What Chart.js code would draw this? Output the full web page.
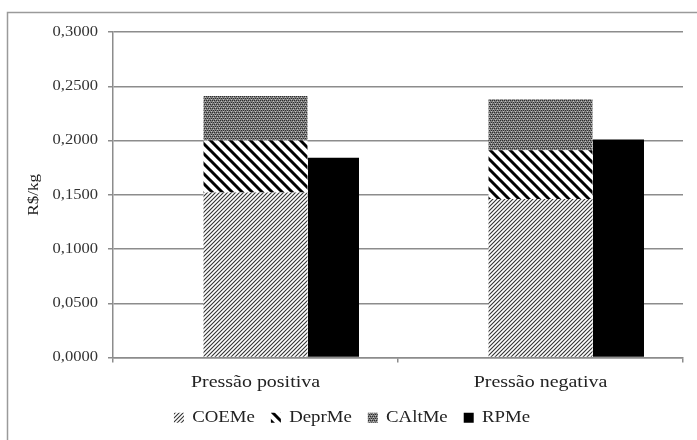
<!DOCTYPE html>
<html>
<head>
<meta charset="utf-8">
<script src="https://cdn.jsdelivr.net/npm/chart.js@4/dist/chart.umd.min.js"></script>
<style>
  html, body { margin: 0; padding: 0; background: #fff; }
  #wrap { width: 697px; height: 440px; }
</style>
</head>
<body>
<div id="wrap"><canvas id="c" width="697" height="440"></canvas></div>
<script>
// ---- data ----
const categories = ['Pressão positiva', 'Pressão negativa'];
const coeMe  = [0.152, 0.146];
const deprMe = [0.048, 0.045];
const caltMe = [0.041, 0.047];
const rpMe   = [0.184, 0.201];
const yTickLabels = ['0,0000', '0,0500', '0,1000', '0,1500', '0,2000', '0,2500', '0,3000'];
const seriesNames = ['COEMe', 'DeprMe', 'CAltMe', 'RPMe'];

const canvas = document.getElementById('c');
const ctx = canvas.getContext('2d');

// The reference's serif text is slightly wide; stretch text horizontally.
const SX = 1.14;
const origFill = ctx.fillText.bind(ctx);
const origMeasure = ctx.measureText.bind(ctx);
ctx.fillText = function (t, x, y) {
  ctx.save();
  ctx.translate(x, y);
  ctx.scale(SX, 1);
  origFill(t, 0, 0);
  ctx.restore();
};
ctx.measureText = function (t) {
  const m = origMeasure(t);
  return {
    width: m.width * SX,
    actualBoundingBoxAscent: m.actualBoundingBoxAscent,
    actualBoundingBoxDescent: m.actualBoundingBoxDescent,
    actualBoundingBoxLeft: m.actualBoundingBoxLeft * SX,
    actualBoundingBoxRight: m.actualBoundingBoxRight * SX,
    fontBoundingBoxAscent: m.fontBoundingBoxAscent,
    fontBoundingBoxDescent: m.fontBoundingBoxDescent
  };
};

// ---- patterns ----
function makePattern(size, draw) {
  const c = document.createElement('canvas');
  c.width = size; c.height = size;
  const g = c.getContext('2d');
  draw(g, size);
  return ctx.createPattern(c, 'repeat');
}
const patCOE = makePattern(4, (g, s) => {
  g.fillStyle = '#fff'; g.fillRect(0, 0, s, s);
  g.strokeStyle = '#333'; g.lineWidth = 1.1;
  g.beginPath();
  g.moveTo(-1, s + 1); g.lineTo(s + 1, -1);
  g.moveTo(-1, 1); g.lineTo(1, -1);
  g.moveTo(s - 1, s + 1); g.lineTo(s + 1, s - 1);
  g.stroke();
});
const patDepr = makePattern(10, (g, s) => {
  g.fillStyle = '#fff'; g.fillRect(0, 0, s, s);
  g.strokeStyle = '#000'; g.lineWidth = 3;
  g.beginPath();
  g.moveTo(-2, -2); g.lineTo(s + 2, s + 2);
  g.moveTo(-2, s - 2); g.lineTo(2, s + 2);
  g.moveTo(s - 2, -2); g.lineTo(s + 2, 2);
  g.stroke();
});
const patCAlt = makePattern(4, (g, s) => {
  g.fillStyle = '#7e7e7e'; g.fillRect(0, 0, s, s);
  g.fillStyle = '#2e2e2e';
  g.fillRect(0, 0, 1, 1); g.fillRect(2, 0, 1, 1);
  g.fillRect(1, 2, 1, 1); g.fillRect(3, 2, 1, 1);
  g.fillStyle = '#c0c0c0';
  g.fillRect(1, 1, 1, 1); g.fillRect(3, 3, 1, 1);
});

const frame = {
  id: 'frame',
  beforeDraw(chart) {
    const c = chart.ctx;
    c.save();
    c.fillStyle = '#fff';
    c.fillRect(0, 0, chart.width, chart.height);
    c.strokeStyle = '#9a9a9a';
    c.lineWidth = 1.5;
    c.strokeRect(7.5, 12.5, chart.width + 20, chart.height + 20);
    c.restore();
  }
};

const SERIF = '"Liberation Serif", "Times New Roman", serif';
const CP = 0.821;
new Chart(canvas, {
  type: 'bar',
  data: {
    labels: categories,
    datasets: [
      { label: '', data: [null, null], stack: 'Z', backgroundColor: 'rgba(0,0,0,0)', categoryPercentage: CP, barPercentage: 0.5 },
      { label: seriesNames[0], data: coeMe,  stack: 'A', backgroundColor: patCOE,  categoryPercentage: CP, barPercentage: 1.333 },
      { label: seriesNames[1], data: deprMe, stack: 'A', backgroundColor: patDepr, categoryPercentage: CP, barPercentage: 1.333 },
      { label: seriesNames[2], data: caltMe, stack: 'A', backgroundColor: patCAlt, categoryPercentage: CP, barPercentage: 1.333 },
      { label: seriesNames[3], data: rpMe,   stack: 'B', backgroundColor: '#000',  categoryPercentage: CP, barPercentage: 0.654 }
    ]
  },
  options: {
    responsive: false,
    animation: false,
    layout: { padding: { left: 21, top: 32, right: 14, bottom: 4 } },
    plugins: {
      legend: {
        position: 'bottom',
        labels: {
          filter: (item) => item.text !== '',
          boxWidth: 10, boxHeight: 10, padding: 16,
          color: '#222',
          font: { family: SERIF, size: 16.5 }
        }
      },
      tooltip: { enabled: false }
    },
    scales: {
      x: {
        stacked: true,
        grid: { drawOnChartArea: false, color: '#8c8c8c', lineWidth: 1.5, tickLength: 5 },
        border: { color: '#8c8c8c', width: 1.5 },
        ticks: { color: '#222', padding: 9, font: { family: SERIF, size: 17.5 } },
        afterFit: (s) => { s.height = 36; }
      },
      y: {
        stacked: true,
        min: 0, max: 0.3,
        grid: { color: '#8c8c8c', lineWidth: 1.5, tickLength: 5 },
        border: { color: '#8c8c8c', width: 1.5 },
        ticks: {
          stepSize: 0.05, padding: 10, color: '#333',
          font: { family: SERIF, size: 14.5 },
          callback: (v, i) => yTickLabels[i]
        },
        title: {
          display: true, text: 'R$/kg', color: '#222',
          font: { family: SERIF, size: 15 }
        },
        afterFit: (s) => { s.width = 92; }
      }
    }
  },
  plugins: [frame]
});
</script>
</body>
</html>
